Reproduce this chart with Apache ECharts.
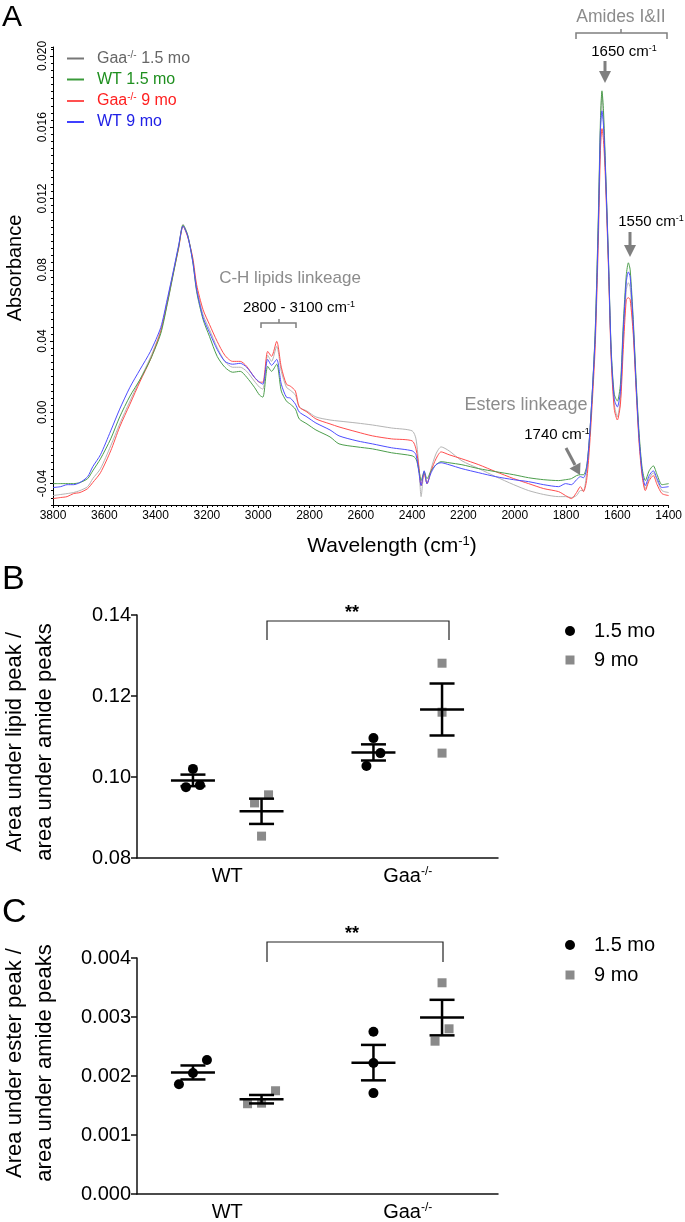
<!DOCTYPE html>
<html><head><meta charset="utf-8">
<script src="https://cdn.jsdelivr.net/npm/echarts@6/dist/echarts.min.js"></script>
<style>html,body{margin:0;padding:0;background:#fff}#c{width:685px;height:1222px}</style>
</head><body><div id="c"></div>
<script>
// ---------- Panel A: FTIR spectra ----------
const wavenumbers = [3800,3770,3745,3720,3695,3665,3645,3615,3575,3540,3500,3460,3420,3380,3355,3330,3310,3293,3275,3255,3240,3215,3190,3160,3130,3100,3070,3045,3015,2995,2982,2963,2948,2928,2910,2890,2875,2855,2840,2810,2775,2720,2685,2615,2555,2480,2400,2385,2373,2365,2353,2342,2326,2307,2287,2256,2206,2140,2074,2004,1946,1887,1829,1802,1779,1759,1744,1732,1720,1709,1697,1686,1674,1666,1660,1654,1647,1635,1624,1612,1600,1588,1577,1565,1557,1550,1538,1526,1515,1503,1491,1476,1460,1445,1426,1400];
const gaa15 = [-0.00467,-0.00461,-0.00456,-0.00450,-0.00439,-0.00417,-0.00372,-0.00316,-0.00188,-0.00065,
0.00063,0.00186,0.00309,0.00459,0.00621,0.00794,0.00933,0.01056,0.00995,0.00855,
0.00699,0.00548,0.00465,0.00364,0.00286,0.00253,0.00253,0.00230,0.00175,0.00141,
0.00130,0.00320,0.00286,0.00370,0.00230,0.00141,0.00124,0.00097,0.00030,0.00007,
-0.00026,-0.00043,-0.00049,-0.00060,-0.00071,-0.00088,-0.00104,-0.00149,-0.00316,-0.00473,
-0.00333,-0.00400,-0.00316,-0.00233,-0.00194,-0.00216,-0.00272,-0.00316,-0.00361,-0.00406,
-0.00439,-0.00461,-0.00473,-0.00473,-0.00478,-0.00467,-0.00439,-0.00439,-0.00344,-0.00149,
0.00130,0.00465,0.01078,0.01581,0.01793,0.01636,0.01385,0.00855,0.00325,0.00046,
-0.00026,0.00074,0.00409,0.00688,0.00727,0.00699,0.00465,0.00130,-0.00149,-0.00344,
-0.00428,-0.00372,-0.00339,-0.00383,-0.00439,-0.00450];
const wt15 = [-0.00400,-0.00400,-0.00400,-0.00400,-0.00394,-0.00372,-0.00328,-0.00261,-0.00149,-0.00026,
0.00091,0.00186,0.00297,0.00442,0.00604,0.00783,0.00928,0.01051,0.00995,0.00844,
0.00677,0.00521,0.00426,0.00314,0.00253,0.00225,0.00230,0.00197,0.00141,0.00097,
0.00085,0.00258,0.00230,0.00270,0.00119,0.00063,0.00046,0.00018,-0.00037,-0.00065,
-0.00099,-0.00138,-0.00177,-0.00194,-0.00205,-0.00227,-0.00244,-0.00261,-0.00328,-0.00383,
-0.00333,-0.00372,-0.00328,-0.00294,-0.00277,-0.00283,-0.00294,-0.00316,-0.00333,-0.00350,
-0.00367,-0.00378,-0.00383,-0.00378,-0.00372,-0.00355,-0.00350,-0.00350,-0.00305,-0.00149,
0.00130,0.00465,0.01106,0.01636,0.01804,0.01692,0.01413,0.00883,0.00353,0.00102,
0.00063,0.00158,0.00493,0.00772,0.00839,0.00799,0.00521,0.00158,-0.00121,-0.00316,
-0.00383,-0.00328,-0.00300,-0.00350,-0.00406,-0.00400];
const gaa9 = [-0.00484,-0.00478,-0.00473,-0.00456,-0.00450,-0.00428,-0.00394,-0.00339,-0.00216,-0.00082,
0.00046,0.00175,0.00297,0.00454,0.00610,0.00788,0.00922,0.01045,0.00984,0.00866,
0.00716,0.00576,0.00493,0.00398,0.00320,0.00286,0.00286,0.00258,0.00197,0.00169,
0.00169,0.00342,0.00314,0.00398,0.00253,0.00158,0.00147,0.00119,0.00030,0.00002,
-0.00037,-0.00065,-0.00082,-0.00110,-0.00132,-0.00149,-0.00160,-0.00205,-0.00316,-0.00411,
-0.00344,-0.00400,-0.00328,-0.00261,-0.00222,-0.00238,-0.00261,-0.00294,-0.00333,-0.00372,
-0.00400,-0.00428,-0.00445,-0.00467,-0.00484,-0.00450,-0.00417,-0.00445,-0.00383,-0.00205,
0.00074,0.00381,0.00967,0.01469,0.01592,0.01525,0.01329,0.00827,0.00297,0.00018,
-0.00043,0.00046,0.00353,0.00632,0.00643,0.00632,0.00437,0.00102,-0.00177,-0.00361,
-0.00439,-0.00383,-0.00355,-0.00406,-0.00456,-0.00467];
const wt9 = [-0.00422,-0.00417,-0.00406,-0.00406,-0.00394,-0.00361,-0.00305,-0.00238,-0.00104,0.00018,
0.00141,0.00242,0.00342,0.00476,0.00632,0.00799,0.00939,0.01045,0.00989,0.00844,
0.00688,0.00532,0.00448,0.00353,0.00286,0.00270,0.00275,0.00253,0.00197,0.00169,
0.00158,0.00297,0.00264,0.00297,0.00158,0.00085,0.00080,0.00046,0.00002,-0.00026,
-0.00060,-0.00099,-0.00132,-0.00160,-0.00177,-0.00199,-0.00216,-0.00238,-0.00344,-0.00411,
-0.00328,-0.00400,-0.00339,-0.00294,-0.00283,-0.00294,-0.00316,-0.00339,-0.00361,-0.00378,
-0.00389,-0.00406,-0.00417,-0.00400,-0.00406,-0.00378,-0.00361,-0.00367,-0.00316,-0.00149,
0.00130,0.00437,0.01051,0.01581,0.01692,0.01608,0.01385,0.00866,0.00336,0.00074,
0.00030,0.00119,0.00454,0.00733,0.00788,0.00760,0.00493,0.00130,-0.00149,-0.00339,
-0.00411,-0.00355,-0.00328,-0.00372,-0.00422,-0.00417];
const spectraNames = ['Gaa-/- 1.5 mo','WT 1.5 mo','Gaa-/- 9 mo','WT 9 mo'];
const absTickValues = [-0.004,0,0.004,0.008,0.012,0.016,0.020];
const absTickLabels = ['-0.04','0.00','0.04','0.08','0.012','0.016','0.020'];

// ---------- Panels B & C: dot plots ----------
const groups = ['WT','Gaa-/-'];
const ages = ['1.5 mo','9 mo'];
const lipidWT15 = [0.1020,0.0975,0.0980];
const lipidWT9  = [0.0956,0.0936,0.0854];
const lipidGaa15 = [0.1096,0.1059,0.1027];
const lipidGaa9  = [0.1281,0.1160,0.1059];
const esterWT15 = [0.00227,0.00186,0.00205];
const esterWT9  = [0.00175,0.00153,0.00154];
const esterGaa15 = [0.00275,0.00222,0.00171];
const esterGaa9  = [0.00358,0.00280,0.00259];

const FONT = "'Liberation Sans', Arial, Helvetica, sans-serif";
const lineColors = ['#b4b4b4','#4c9e4c','#ff4d4d','#4d4dff'];
const legendText = ['#666666','#1f8f1f','#ff1f1f','#2020e6'];
const legendIcon = ['#777777','#3a9a3a','#ff5050','#4040ff'];

function pairs(ys){ return wavenumbers.map((w,i)=>[w, ys[i]]); }
const spectra = [gaa15, wt15, gaa9, wt9];
const drawOrder = [0,2,1,3];

const lineSeries = drawOrder.map(k => ({
  type:'line', name: spectraNames[k], xAxisIndex:0, yAxisIndex:0,
  data: pairs(spectra[k]), symbol:'none', smooth:0.25,
  lineStyle:{width:1, color: lineColors[k]}, itemStyle:{color: lineColors[k]}, z: 2
}));

function dotSeries(xIdx, yIdx, catIdx, values, side, shape){
  return {
    type:'custom', xAxisIndex:xIdx, yAxisIndex:yIdx, clip:false, z:5,
    data:[[catIdx].concat(values)],
    encode:{x:0, y:[1,2,3]},
    renderItem:(params, api) => {
      const cat = api.value(0);
      const vals = [api.value(1), api.value(2), api.value(3)];
      const band = api.size([1,0])[0];
      const cx = api.coord([cat, vals[0]])[0] + side*0.19*band;
      const ys = vals.map(v => api.coord([cat, v])[1]);
      const order = ys.map((y,i)=>i).sort((a,b)=>ys[a]-ys[b]);
      const offs = vals.map(()=>0);
      let cluster = [order[0]];
      const flush = () => {
        const n = cluster.length;
        if (n > 1) {
          const c = cluster.slice().sort((a,b)=>vals[a]-vals[b]);
          c.forEach((idx,k)=>{ offs[idx] = (k-(n-1)/2)*14; });
        }
      };
      for (let k=1;k<order.length;k++){
        if (ys[order[k]]-ys[order[k-1]] < 13) cluster.push(order[k]);
        else { flush(); cluster=[order[k]]; }
      }
      flush();
      const n = vals.length;
      const mean = vals.reduce((a,b)=>a+b,0)/n;
      const sd = Math.sqrt(vals.reduce((a,b)=>a+(b-mean)*(b-mean),0)/(n-1));
      const sem = sd/Math.sqrt(n);
      const ym = api.coord([cat,mean])[1];
      const yh = api.coord([cat,mean+sem])[1];
      const yl = api.coord([cat,mean-sem])[1];
      const children = [];
      vals.forEach((v,i)=>{
        if (shape==='circle') children.push({type:'circle', shape:{cx:cx+offs[i], cy:ys[i], r:5}, style:{fill:'#000'}});
        else children.push({type:'rect', shape:{x:cx+offs[i]-4.5, y:ys[i]-4.5, width:9, height:9}, style:{fill:'#8a8a8a'}});
      });
      const ls = {stroke:'#000', lineWidth:2.5};
      children.push({type:'line', shape:{x1:cx-22,y1:ym,x2:cx+22,y2:ym}, style:ls});
      children.push({type:'line', shape:{x1:cx,y1:yh,x2:cx,y2:yl}, style:ls});
      children.push({type:'line', shape:{x1:cx-12.5,y1:yh,x2:cx+12.5,y2:yh}, style:ls});
      children.push({type:'line', shape:{x1:cx-12.5,y1:yl,x2:cx+12.5,y2:yl}, style:ls});
      return {type:'group', children};
    }
  };
}

const supRich = {
  n:{fontSize:20, fontFamily:FONT, color:'#000'},
  s:{fontSize:12, fontFamily:FONT, color:'#000', verticalAlign:'top', padding:[0,0,8,0]}
};
function groupLabel(v){ return v.indexOf('-/-')>=0 ? '{n|'+v.replace('-/-','')+'}{s|-/-}' : '{n|'+v+'}'; }

const catX = (gi) => ({
  gridIndex:gi, type:'category', data:groups, boundaryGap:true,
  axisLine:{onZero:false, lineStyle:{color:'#111', width:1.5}},
  axisTick:{alignWithLabel:true, length:6, lineStyle:{color:'#111', width:1.5}},
  axisLabel:{margin:8, formatter:groupLabel, rich:supRich},
  splitLine:{show:false}
});
const valY = (gi, min, max, interval, dec) => ({
  gridIndex:gi, type:'value', min, max, interval,
  axisLine:{show:true, onZero:false, lineStyle:{color:'#111', width:1.5}},
  axisTick:{show:true, length:6, lineStyle:{color:'#111', width:1.5}},
  axisLabel:{fontSize:20, fontFamily:FONT, color:'#000', margin:6, formatter:v=>v.toFixed(dec)},
  splitLine:{show:false}
});

function txt(x,y,text,size,color,align,extra){
  return Object.assign({type:'text', x, y, style:{text, fontSize:size, fontFamily:FONT, fill:color,
    align:align||'center', textAlign:align||'center', verticalAlign:'middle', textVerticalAlign:'middle'}}, extra||{});
}
function richTxt(x,y,base,sup,size,color){
  return {type:'text', x, y, style:{text:'{n|'+base+'}{s|'+sup+'}', align:'center', textAlign:'center',
    verticalAlign:'middle', textVerticalAlign:'middle', fill:color,
    rich:{n:{fontSize:size, fontFamily:FONT, fill:color, color:color},
          s:{fontSize:Math.round(size*0.6), fontFamily:FONT, fill:color, color:color, verticalAlign:'top', padding:[0,0,Math.round(size*0.45),0]}}}};
}
const gray = '#7f7f7f';
const graphics = [
  txt(2,18,'A',30,'#000','left'),
  txt(2,580,'B',34,'#000','left'),
  txt(2,913,'C',34,'#000','left'),
  txt(15,268,'Absorbance',20,'#000','center',{rotation:Math.PI/2}),
  {type:'text', x:392, y:546, style:{text:'{n|Wavelength (cm}{s|-1}{n|)}', align:'center', textAlign:'center', verticalAlign:'middle', textVerticalAlign:'middle',
    rich:{n:{fontSize:21, fontFamily:FONT, fill:'#000'}, s:{fontSize:13, fontFamily:FONT, fill:'#000', verticalAlign:'top', padding:[0,0,9,0]}}}},
  // C-H lipids
  txt(290,278,'C-H lipids linkeage',17,'#8c8c8c'),
  richTxt(299,308,'2800 - 3100 cm','-1',15,'#000'),
  {type:'polyline', shape:{points:[[261,328],[261,323],[296,323],[296,328]]}, style:{stroke:gray, lineWidth:1.5, fill:null}},
  {type:'line', shape:{x1:279,y1:323,x2:279,y2:319}, style:{stroke:gray, lineWidth:1.5}},
  // Amides
  txt(621,17,'Amides I&II',17.5,'#8c8c8c'),
  {type:'polyline', shape:{points:[[576,39],[576,33],[667,33],[667,39]]}, style:{stroke:gray, lineWidth:1.5, fill:null}},
  {type:'line', shape:{x1:621,y1:33,x2:621,y2:29}, style:{stroke:gray, lineWidth:1.5}},
  richTxt(624,52,'1650 cm','-1',15,'#000'),
  {type:'line', shape:{x1:605,y1:61,x2:605,y2:72}, style:{stroke:gray, lineWidth:3}},
  {type:'polygon', shape:{points:[[599,71],[611,71],[605,83]]}, style:{fill:gray}},
  richTxt(651,222,'1550 cm','-1',15,'#000'),
  {type:'line', shape:{x1:630,y1:232,x2:630,y2:246}, style:{stroke:gray, lineWidth:3}},
  {type:'polygon', shape:{points:[[624,245],[636,245],[630,257]]}, style:{fill:gray}},
  // Esters
  txt(526,405,'Esters linkeage',18,'#8c8c8c'),
  richTxt(557,435,'1740 cm','-1',15,'#000'),
  {type:'line', shape:{x1:566,y1:448,x2:575,y2:465}, style:{stroke:gray, lineWidth:3}},
  {type:'polygon', shape:{points:[[569.5,468.5],[580.5,462.5],[580,475]]}, style:{fill:gray}},
  // Panel B extras
  {type:'text', x:30, y:742, rotation:Math.PI/2, style:{text:'Area under lipid peak /\narea under amide peaks', fontSize:22, fontFamily:FONT, fill:'#000', lineHeight:30,
    align:'center', textAlign:'center', verticalAlign:'middle', textVerticalAlign:'middle'}},
  {type:'polyline', shape:{points:[[267,640],[267,621],[449,621],[449,640]]}, style:{stroke:'#222', lineWidth:1.2, fill:null}},
  txt(352,613,'**',18,'#000','center',{style:{text:'**', fontSize:18, fontWeight:'bold', fontFamily:FONT, fill:'#000', align:'center', textAlign:'center', verticalAlign:'middle', textVerticalAlign:'middle'}}),
  {type:'circle', shape:{cx:570, cy:631, r:5}, style:{fill:'#000'}},
  {type:'rect', shape:{x:565.5, y:655.5, width:9, height:9}, style:{fill:'#8a8a8a'}},
  txt(594,631,ages[0],20,'#000','left'),
  txt(594,660,ages[1],20,'#000','left'),
  // Panel C extras
  {type:'text', x:30, y:1063, rotation:Math.PI/2, style:{text:'Area under ester peak /\narea under amide peaks', fontSize:22, fontFamily:FONT, fill:'#000', lineHeight:30,
    align:'center', textAlign:'center', verticalAlign:'middle', textVerticalAlign:'middle'}},
  {type:'polyline', shape:{points:[[267,962],[267,942],[443,942],[443,962]]}, style:{stroke:'#222', lineWidth:1.2, fill:null}},
  txt(352,934,'**',18,'#000','center',{style:{text:'**', fontSize:18, fontWeight:'bold', fontFamily:FONT, fill:'#000', align:'center', textAlign:'center', verticalAlign:'middle', textVerticalAlign:'middle'}}),
  {type:'circle', shape:{cx:570, cy:945, r:5}, style:{fill:'#000'}},
  {type:'rect', shape:{x:565.5, y:970.5, width:9, height:9}, style:{fill:'#8a8a8a'}},
  txt(594,945,ages[0],20,'#000','left'),
  txt(594,975,ages[1],20,'#000','left')
];

const chart = echarts.init(document.getElementById('c'), null, {renderer:'canvas'});
chart.setOption({
  animation:false,
  backgroundColor:'#fff',
  grid:[
    {left:53, top:47, width:618, height:458},
    {left:137, top:615, width:361, height:243},
    {left:137, top:958, width:361, height:236}
  ],
  legend:{
    orient:'vertical', left:62, top:45, itemWidth:17, itemHeight:2, itemGap:5, icon:'rect',
    textStyle:{fontSize:16, fontFamily:FONT, padding:[0,0,0,8],
      rich:{sup:{fontSize:10, fontFamily:FONT, verticalAlign:'top', padding:[0,0,7,0]}}},
    formatter: name => name.replace('-/-','{sup|-/-}'),
    data: spectraNames.map((n,i)=>({name:n, textStyle:{color:legendText[i]}, itemStyle:{color:legendIcon[i]}}))
  },
  xAxis:[
    {gridIndex:0, type:'value', inverse:true, min:1400, max:3800, interval:200, position:'bottom',
     axisLine:{onZero:false, lineStyle:{color:'#000', width:1}}, axisTick:{length:3, lineStyle:{color:'#000'}},
     minorTick:{show:true, splitNumber:10, length:2, lineStyle:{color:'#000'}},
     axisLabel:{fontSize:12, fontFamily:FONT, color:'#000', margin:5, formatter: v => String(v)}, splitLine:{show:false}},
    catX(1), catX(2)
  ],
  yAxis:[
    {gridIndex:0, type:'value', min:-0.0052, max:0.0205, position:'left',
     axisLine:{show:true, onZero:false, lineStyle:{color:'#000', width:1}},
     axisTick:{show:true, length:3, customValues:absTickValues, lineStyle:{color:'#000'}},
     axisLabel:{customValues:absTickValues, rotate:90, fontSize:12, fontFamily:FONT, color:'#000', margin:4,
       formatter: v => { const i = absTickValues.findIndex(t=>Math.abs(t-v)<1e-9); return i>=0 ? absTickLabels[i] : ''; }},
     splitLine:{show:false}},
    {gridIndex:0, type:'value', min:-0.0052, max:0.0205, interval:0.0004, position:'left', offset:0,
     axisLine:{show:false, onZero:false}, axisTick:{show:true, length:2, lineStyle:{color:'#000'}},
     axisLabel:{show:false}, splitLine:{show:false}},
    valY(1, 0.08, 0.14, 0.02, 2),
    valY(2, 0, 0.004, 0.001, 3)
  ],
  graphic: graphics,
  series: lineSeries.concat([
    dotSeries(1,2,0,lipidWT15,-1,'circle'),
    dotSeries(1,2,0,lipidWT9,1,'square'),
    dotSeries(1,2,1,lipidGaa15,-1,'circle'),
    dotSeries(1,2,1,lipidGaa9,1,'square'),
    dotSeries(2,3,0,esterWT15,-1,'circle'),
    dotSeries(2,3,0,esterWT9,1,'square'),
    dotSeries(2,3,1,esterGaa15,-1,'circle'),
    dotSeries(2,3,1,esterGaa9,1,'square')
  ])
});
</script>
</body></html>
